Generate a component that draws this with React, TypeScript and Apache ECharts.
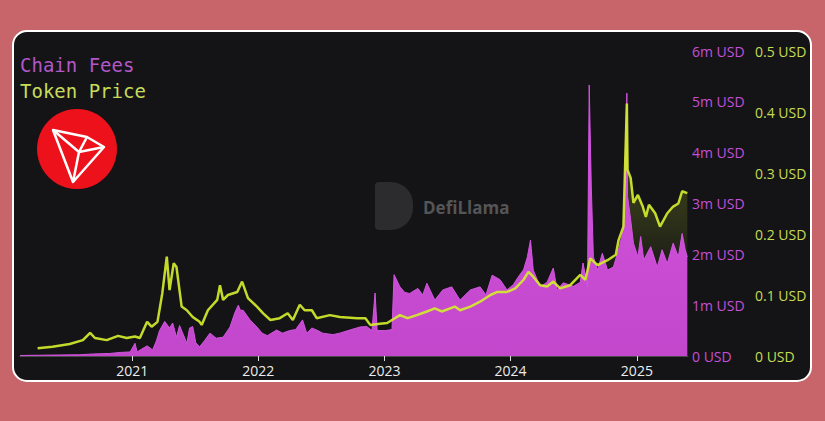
import React, { useEffect, useRef } from "react";
import * as echarts from "echarts";

// ---- DATA ----
const priceDates = [
  "2020-04-02","2020-05-15","2020-07-04","2020-08-11","2020-09-01","2020-09-15","2020-10-19","2020-11-21","2020-12-16",
  "2021-01-09","2021-01-23","2021-02-13","2021-02-26","2021-03-15","2021-03-29","2021-04-11","2021-04-19","2021-05-01",
  "2021-05-09","2021-05-15","2021-05-24","2021-06-08","2021-06-25","2021-07-15","2021-07-21","2021-08-08","2021-09-04",
  "2021-09-12","2021-09-21","2021-10-05","2021-11-01","2021-11-15","2021-12-02","2021-12-28",
  "2022-01-15","2022-02-05","2022-03-04","2022-03-27","2022-04-11","2022-05-01","2022-05-15","2022-06-05","2022-06-19",
  "2022-07-27","2022-08-25","2022-10-14","2022-11-07","2022-11-21","2022-12-19",
  "2023-01-09","2023-01-23","2023-02-15","2023-03-09","2023-04-05","2023-05-04","2023-05-27","2023-06-16","2023-07-24",
  "2023-08-08","2023-09-07","2023-10-05","2023-11-04","2023-11-24","2023-12-22",
  "2024-01-15","2024-02-08","2024-02-22","2024-03-07","2024-03-27","2024-04-16","2024-05-04","2024-05-24","2024-06-22",
  "2024-07-21","2024-08-05","2024-08-19","2024-09-09","2024-10-08","2024-11-01","2024-11-09","2024-11-23","2024-12-03",
  "2024-12-05","2024-12-14","2024-12-22",
  "2025-01-04","2025-01-18","2025-01-27","2025-02-05","2025-02-23","2025-03-09","2025-03-30","2025-04-16","2025-05-01",
  "2025-05-12","2025-05-27",
];
const priceValues = [
  0.0126,0.015,0.0197,0.026,0.038,0.0295,0.026,0.033,0.0295,
  0.032,0.0295,0.056,0.048,0.056,0.103,0.163,0.108,0.152,
  0.146,0.12,0.081,0.075,0.064,0.056,0.051,0.075,0.092,
  0.116,0.092,0.1,0.105,0.122,0.095,0.081,
  0.07,0.059,0.062,0.07,0.059,0.084,0.075,0.075,0.062,
  0.067,0.064,0.062,0.062,0.051,0.053,
  0.054,0.059,0.067,0.062,0.067,0.073,0.078,0.073,0.081,
  0.075,0.081,0.089,0.1,0.105,0.105,
  0.111,0.125,0.138,0.13,0.116,0.114,0.122,0.111,0.116,
  0.133,0.125,0.16,0.149,0.157,0.166,0.19,0.212,0.414,
  0.305,0.292,0.251,
  0.264,0.245,0.228,0.248,0.234,0.212,0.234,0.245,0.25,
  0.27,0.267,
];

const feeDates = [
  "2020-02-11","2020-04-07","2020-06-05","2020-08-02","2020-09-11","2020-10-28","2020-11-27","2020-12-26",
  "2021-01-09","2021-01-15","2021-02-13","2021-03-01","2021-03-12","2021-03-21","2021-04-05","2021-04-19","2021-04-28",
  "2021-05-09","2021-05-18","2021-05-27","2021-06-08","2021-06-16","2021-06-25","2021-07-04","2021-07-15","2021-07-29",
  "2021-08-14","2021-09-01","2021-09-21","2021-10-11","2021-10-25","2021-11-04","2021-11-10","2021-11-18","2021-12-08",
  "2021-12-28",
  "2022-01-12","2022-01-27","2022-02-23","2022-03-12","2022-04-02","2022-04-19","2022-05-09","2022-05-21","2022-06-05",
  "2022-06-19","2022-07-06","2022-08-05","2022-08-25","2022-09-23","2022-10-22","2022-11-11","2022-11-26","2022-12-05",
  "2022-12-11",
  "2023-01-04","2023-01-23","2023-01-29","2023-02-15","2023-03-01","2023-03-15","2023-04-08","2023-04-22","2023-05-04",
  "2023-05-27","2023-06-19","2023-07-15","2023-08-08","2023-09-07","2023-10-05","2023-10-22","2023-11-09","2023-12-02",
  "2023-12-22",
  "2024-01-09","2024-01-23","2024-02-08","2024-02-19","2024-02-28","2024-03-07","2024-03-27","2024-04-16","2024-05-04",
  "2024-05-15","2024-06-02","2024-07-01","2024-07-21","2024-07-29","2024-08-11","2024-08-16","2024-08-22","2024-08-28",
  "2024-09-09","2024-09-23","2024-10-08","2024-10-25","2024-11-09","2024-11-23","2024-12-03","2024-12-05","2024-12-14",
  "2024-12-22",
  "2025-01-04","2025-01-12","2025-01-21","2025-02-10","2025-03-01","2025-03-15","2025-03-30","2025-04-16","2025-05-01",
  "2025-05-12","2025-05-21","2025-05-27",
];
// millions of USD
const feeValuesM = [
  0.01,0.015,0.02,0.025,0.04,0.05,0.07,0.08,
  0.25,0.08,0.2,0.12,0.3,0.5,0.68,0.55,0.65,
  0.37,0.6,0.45,0.25,0.55,0.58,0.26,0.18,0.3,
  0.45,0.35,0.37,0.57,0.85,1.0,0.9,0.9,0.71,
  0.57,
  0.45,0.4,0.51,0.45,0.5,0.52,0.71,0.45,0.55,
  0.51,0.45,0.42,0.45,0.51,0.57,0.58,0.5,1.24,
  0.5,
  0.5,0.52,1.6,1.36,1.25,1.23,1.33,1.2,1.43,
  1.1,1.3,1.36,1.1,1.3,1.36,1.2,1.59,1.5,
  1.3,
  1.4,1.55,1.7,1.95,2.28,1.69,1.36,1.45,1.73,
  1.3,1.44,1.37,1.45,1.83,1.37,5.33,3.33,1.95,
  1.69,2.02,1.69,1.75,2.09,2.48,5.17,3.14,2.68,
  2.22,
  1.95,2.35,1.89,2.15,1.75,2.09,1.82,2.22,1.95,
  2.41,2.09,1.95,
];

const feeTicks = [0, 1, 2, 3, 4, 5, 6]; // millions
const priceTicks = [0, 0.1, 0.2, 0.3, 0.4, 0.5];
const xStart = "2020-02-11";
const xEnd = "2025-05-29";

const FEE_COLOR = "#c44fd8";
const PRICE_COLOR = "#d2ec2e";

export default function App() {
  const ref = useRef<HTMLDivElement>(null);

  useEffect(() => {
    if (!ref.current) return;
    const chart = echarts.init(ref.current, null, { renderer: "svg" });
    const ts = (d: string) => new Date(d + "T00:00:00Z").getTime();
    const priceData = priceDates.map((d, i) => [ts(d), priceValues[i]]);
    const feeData = feeDates.map((d, i) => [ts(d), feeValuesM[i] * 1e6]);
    const YEAR = 365 * 24 * 3600 * 1000;

    chart.setOption({
      animation: false,
      backgroundColor: "#c8656a",
      grid: { left: 20, right: 137, top: 51, bottom: 65 },
      xAxis: {
        type: "time",
        min: ts(xStart),
        max: ts(xEnd),
        minInterval: YEAR,
        axisLine: { show: true, lineStyle: { color: "#4a4a4a", width: 1 } },
        axisTick: { show: true, length: 5, lineStyle: { color: "#dddddd" } },
        axisLabel: {
          color: "#ececec",
          fontSize: 14,
          fontFamily: "Open Sans",
          margin: 7,
          showMinLabel: false,
          showMaxLabel: false,
          formatter: (v: number) => {
            const d = new Date(v);
            return d.getUTCMonth() === 0 && d.getUTCDate() === 1 ? String(d.getUTCFullYear()) : "";
          },
        },
        splitLine: { show: false },
      },
      yAxis: [
        {
          type: "value",
          position: "right",
          min: feeTicks[0] * 1e6,
          max: feeTicks[feeTicks.length - 1] * 1e6,
          interval: 1e6,
          axisLine: { show: false },
          axisTick: { show: false },
          splitLine: { show: false },
          axisLabel: {
            color: FEE_COLOR,
            fontSize: 14,
            fontFamily: "Open Sans",
            margin: 4,
            formatter: (v: number) => (v === 0 ? "0 USD" : v / 1e6 + "m USD"),
          },
        },
        {
          type: "value",
          position: "right",
          offset: 63,
          min: priceTicks[0],
          max: priceTicks[priceTicks.length - 1],
          interval: 0.1,
          axisLine: { show: false },
          axisTick: { show: false },
          splitLine: { show: false },
          axisLabel: {
            color: "#c8dc52",
            fontSize: 14,
            fontFamily: "Open Sans",
            margin: 4,
            formatter: (v: number) => +v.toFixed(1) + " USD",
          },
        },
      ],
      series: [
        {
          name: "Token Price Area",
          type: "line",
          yAxisIndex: 1,
          data: priceData,
          showSymbol: false,
          z: 1,
          lineStyle: { width: 0, opacity: 0 },
          areaStyle: {
            color: new echarts.graphic.LinearGradient(0, 0, 0, 1, [
              { offset: 0, color: "rgba(210,235,40,0.38)" },
              { offset: 0.45, color: "rgba(210,235,40,0.2)" },
              { offset: 0.72, color: "rgba(210,235,40,0)" },
              { offset: 1, color: "rgba(210,235,40,0)" },
            ]),
          },
        },
        {
          name: "Chain Fees",
          type: "line",
          yAxisIndex: 0,
          data: feeData,
          showSymbol: false,
          z: 2,
          lineStyle: { width: 1, color: "#d255e0" },
          areaStyle: {
            opacity: 1,
            color: new echarts.graphic.LinearGradient(0, 0, 0, 1, [
              { offset: 0, color: "#d656e2" },
              { offset: 1, color: "#c247cb" },
            ]),
          },
        },
        {
          name: "Token Price",
          type: "line",
          yAxisIndex: 1,
          data: priceData,
          showSymbol: false,
          z: 3,
          lineStyle: { width: 2.5, color: PRICE_COLOR, opacity: 0.92 },
        },
      ],
      graphic: [
        {
          type: "rect",
          z: -10,
          shape: { x: 13, y: 31, width: 798, height: 350, r: 14 },
          style: { fill: "#141416", stroke: "#ffffff", lineWidth: 2 },
        },
        {
          type: "text",
          z: 10,
          x: 20,
          y: 65,
          style: {
            text: "Chain Fees",
            fill: "#b157ca",
            font: "19px 'DejaVu Sans Mono'",
            verticalAlign: "middle",
          },
        },
        {
          type: "text",
          z: 10,
          x: 20,
          y: 91,
          style: {
            text: "Token Price",
            fill: "#c8dc5a",
            font: "19px 'DejaVu Sans Mono'",
            verticalAlign: "middle",
          },
        },
        {
          type: "circle",
          z: 10,
          shape: { cx: 77, cy: 149, r: 40 },
          style: { fill: "#ec111b" },
        },
        {
          type: "polygon",
          z: 11,
          shape: { points: [[53, 130], [87, 137], [104, 147], [73, 182]] },
          style: { fill: "none", stroke: "#ffffff", lineWidth: 2.5, lineJoin: "round" },
        },
        {
          type: "polyline",
          z: 11,
          shape: { points: [[53, 130], [79, 152], [73, 182]] },
          style: { fill: "none", stroke: "#ffffff", lineWidth: 2.5, lineJoin: "round" },
        },
        {
          type: "polyline",
          z: 11,
          shape: { points: [[87, 137], [79, 152], [104, 147]] },
          style: { fill: "none", stroke: "#ffffff", lineWidth: 2.5, lineJoin: "round" },
        },
        {
          type: "rect",
          z: 0,
          shape: { x: 375, y: 182, width: 38, height: 48, r: [4, 22, 22, 4] },
          style: { fill: "#2c2c2e" },
        },
        {
          type: "text",
          z: 0,
          x: 423,
          y: 207,
          style: {
            text: "DefiLlama",
            fill: "#555557",
            font: "bold 17px 'Open Sans'",
            verticalAlign: "middle",
          },
        },
      ],
    });
    return () => chart.dispose();
  }, []);

  return (
    <div
      ref={ref}
      style={{ position: "fixed", left: 0, top: 0, width: 825, height: 421 }}
    />
  );
}
